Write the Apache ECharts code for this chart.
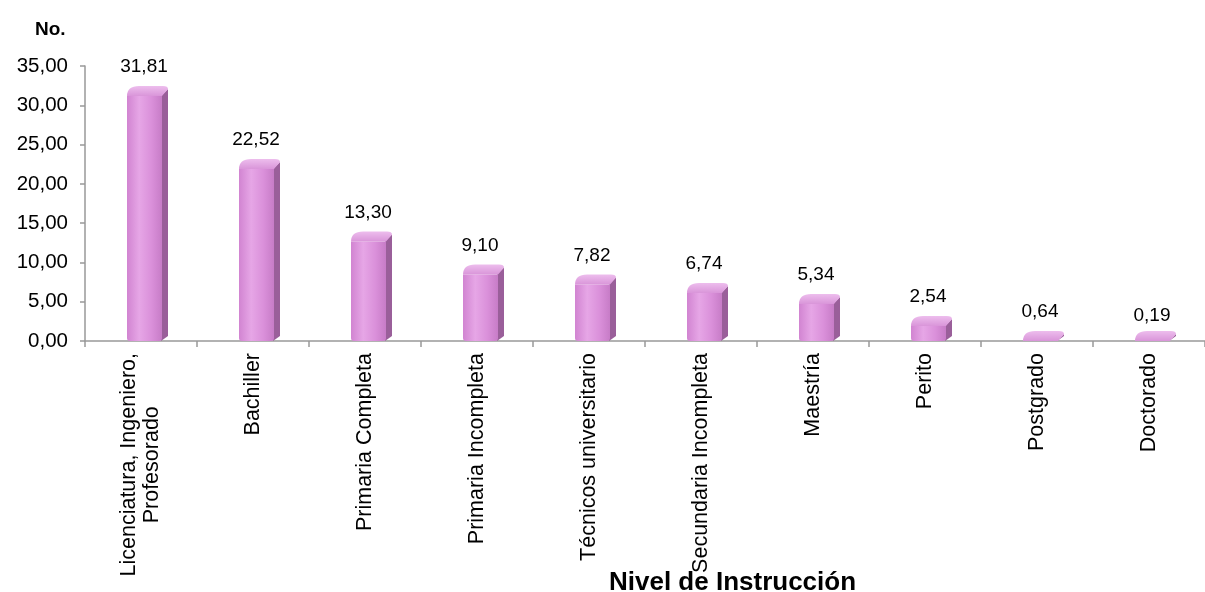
<!DOCTYPE html>
<html>
<head>
<meta charset="utf-8">
<script src="https://cdn.jsdelivr.net/npm/echarts@6/dist/echarts.min.js"></script>
<style>html,body{margin:0;padding:0;background:#fff;}#c{width:1205px;height:592px;}</style>
</head>
<body>
<div id="c"></div>
<script>
const categories = ["Licenciatura, Ingeniero,\nProfesorado", "Bachiller", "Primaria Completa", "Primaria Incompleta", "Técnicos universitario", "Secundaria Incompleta", "Maestría", "Perito", "Postgrado", "Doctorado"];
const values = [31.81, 22.52, 13.30, 9.10, 7.82, 6.74, 5.34, 2.54, 0.64, 0.19];
const yTicks = { min: 0, max: 35, interval: 5 };

const FONT = "'Liberation Sans', Arial, sans-serif";
const fmt = v => v.toFixed(2).replace('.', ',');

const chart = echarts.init(document.getElementById('c'));

function renderItem(params, api) {
  const i = api.value(0), v = api.value(1);
  const base = api.coord([i, 0]);
  const top = api.coord([i, v]);
  const cx = base[0], y0 = base[1], yv = top[1];
  const fl = cx - 14, fr = cx + 21, dx = 6, dy = 10;
  const ft = Math.min(yv + 5, y0);
  const tt = ft - dy;
  const frontGrad = new echarts.graphic.LinearGradient(0, 0, 1, 0, [
    {offset: 0, color: '#d184d1'},
    {offset: 0.35, color: '#e6a6e6'},
    {offset: 0.7, color: '#da90da'},
    {offset: 1, color: '#c77cc7'}
  ]);
  const topGrad = new echarts.graphic.LinearGradient(0, 0, 0, 1, [
    {offset: 0, color: '#edbded'},
    {offset: 1, color: '#d995d9'}
  ]);
  const children = [];
  children.push({
    type: 'polygon',
    shape: {points: [[fr - 1, ft], [fr + dx, tt + 3], [fr + dx, y0 - 5], [fr - 1, y0]]},
    style: {fill: '#9a5f9a'}
  });
  if (y0 - ft > 0) {
    children.push({
      type: 'rect',
      shape: {x: fl, y: ft, width: fr - fl, height: y0 - ft, r: [0, 0, 3, 3]},
      style: {fill: frontGrad}
    });
  }
  const path = 'M' + fl + ' ' + ft +
    ' Q' + fl + ' ' + tt + ' ' + (fl + 12) + ' ' + tt +
    ' L' + (fr + dx - 5) + ' ' + tt +
    ' Q' + (fr + dx) + ' ' + tt + ' ' + (fr + dx) + ' ' + (tt + 3) +
    ' L' + fr + ' ' + ft + ' Z';
  children.push({
    type: 'path',
    shape: {pathData: path},
    style: {fill: topGrad}
  });
  children.push({
    type: 'text',
    style: {
      text: fmt(v), x: cx + 3, y: yv - 24,
      align: 'center', verticalAlign: 'middle',
      font: '19px ' + FONT, fill: '#000'
    }
  });
  return {type: 'group', children: children};
}

chart.setOption({
  backgroundColor: '#fff',
  animation: false,
  title: [
    {text: 'No.', left: 30, top: 15, textStyle: {fontFamily: FONT, fontSize: 19, fontWeight: 'bold', color: '#000'}},
    {text: 'Nivel de Instrucción', left: 604, top: 565, textStyle: {fontFamily: FONT, fontSize: 26, fontWeight: 'bold', color: '#000'}}
  ],
  grid: {left: 85, top: 66, width: 1133, height: 275, containLabel: false},
  xAxis: {
    type: 'category',
    data: categories,
    axisLine: {lineStyle: {color: '#999', width: 1.5}},
    axisTick: {show: true, length: 6, lineStyle: {color: '#999', width: 1.5}},
    axisLabel: {
      interval: 0, rotate: 90, margin: 12, color: '#000', fontFamily: FONT, fontSize: 21.5,
      formatter: function (val) {
        return val.split('\n').map(s => '{a|' + s + '}').join('\n');
      },
      rich: {a: {align: 'center', fontFamily: FONT, fontSize: 21.5, color: '#000', lineHeight: 23}}
    }
  },
  yAxis: {
    type: 'value',
    min: yTicks.min, max: yTicks.max, interval: yTicks.interval,
    splitLine: {show: false},
    axisLine: {show: true, lineStyle: {color: '#999', width: 1.5}},
    axisTick: {show: true, length: 5, lineStyle: {color: '#999', width: 1.5}},
    axisLabel: {margin: 17, color: '#000', fontFamily: FONT, fontSize: 20.5, formatter: v => fmt(v)}
  },
  series: [{
    type: 'custom',
    renderItem: renderItem,
    data: values.map((v, i) => [i, v]),
    clip: false
  }]
});
</script>
</body>
</html>
